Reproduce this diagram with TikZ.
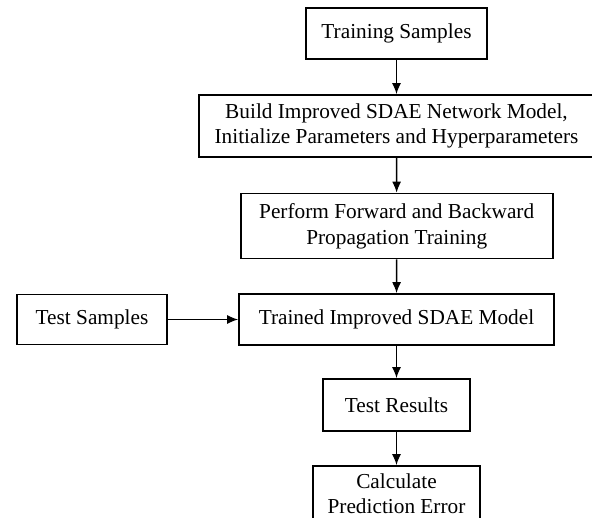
\documentclass[tikz,border=0pt]{standalone}
\usepackage{fontspec}
\setmainfont{Liberation Serif}
\usetikzlibrary{arrows.meta}
\begin{document}
\begin{tikzpicture}[x=1pt,y=-1pt,
  box/.style={draw,line width=1.6pt,inner sep=0pt,align=center,
    font=\fontsize{21.3}{25.6}\selectfont},
  conn/.style={line width=1.6pt,-{Latex[length=11pt,width=9pt]}}]
\useasboundingbox (0,0) rectangle (592,517);
\clip (0,0) rectangle (592,517);
\node[box,minimum width=181pt,minimum height=51pt] (ts) at (396.5,33.5) {Training Samples};
\node[box,minimum width=395pt,minimum height=62pt] (build) at (396.5,126) {Build Improved SDAE Network Model,\\Initialize Parameters and Hyperparameters};
\node[box,minimum width=312pt,minimum height=65pt] (perf) at (396.7,226) {Perform Forward and Backward\\Propagation Training};
\node[box,minimum width=315pt,minimum height=51pt] (trained) at (396.5,319.5) {Trained Improved SDAE Model};
\node[box,minimum width=150pt,minimum height=50pt] (tests) at (92,319.5) {Test Samples};
\node[box,minimum width=147pt,minimum height=52pt] (res) at (396.5,405) {Test Results};
\node[box,align=none,minimum width=167pt,minimum height=60pt] (calc) at (396.5,496) {\raisebox{7.5pt}{\begin{tabular}{@{}c@{}}Calculate\\[-1pt]Prediction Error\end{tabular}}};
\draw[conn] (ts) -- (build);
\draw[conn] (build) -- (perf);
\draw[conn] (perf) -- (trained);
\draw[conn] (tests) -- (trained);
\draw[conn] (trained) -- (res);
\draw[conn] (res) -- (calc);
\end{tikzpicture}
\end{document}
